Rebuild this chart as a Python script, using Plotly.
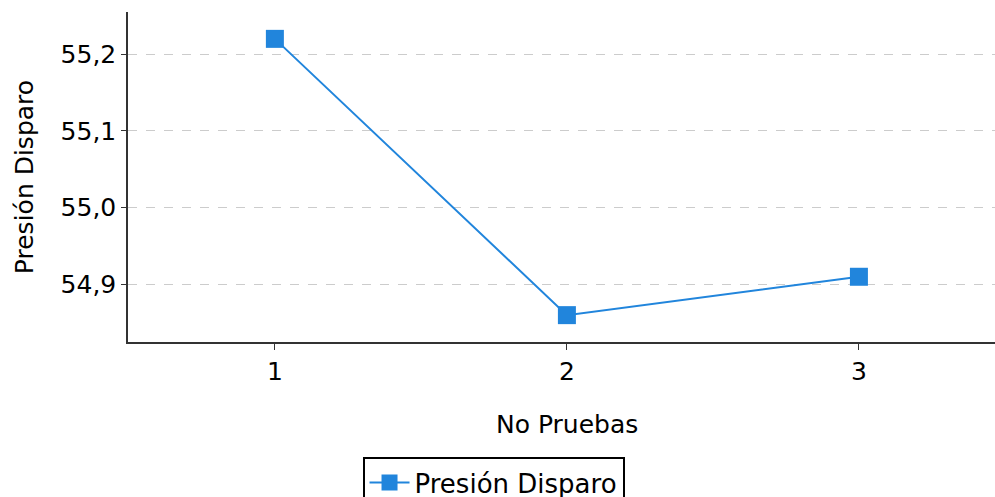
import plotly.graph_objects as go

pruebas = [1, 2, 3]
presion = [55.22, 54.86, 54.91]
serie = "Presión Disparo"
color = "#2185dc"
font_fam = "DejaVu Sans"

fig = go.Figure()
fig.add_trace(go.Scatter(
    x=pruebas, y=presion, mode="lines+markers", name=serie,
    line=dict(color=color, width=2),
    marker=dict(symbol="square", size=18, color=color),
))

fig.update_layout(
    width=995, height=497,
    margin=dict(l=128, r=0, t=12, b=155, autoexpand=False),
    paper_bgcolor="white", plot_bgcolor="white",
    separators=",.",
    font=dict(family=font_fam, size=25, color="black"),
    showlegend=True,
    legend=dict(
        orientation="h",
        x=0.4216, xanchor="center", y=-0.3485, yanchor="top",
        bordercolor="black", borderwidth=2, itemwidth=40,
        font=dict(family=font_fam, size=26, color="black"),
    ),
    xaxis=dict(
        range=[0.497, 3.466], tickvals=pruebas, ticktext=["1", "2", "3"],
        showgrid=False, zeroline=False, automargin=False,
        showline=True, linecolor="#333", linewidth=1.5,
        ticks="outside", ticklen=6, tickcolor="#333",
        tickfont=dict(size=25),
    ),
    yaxis=dict(
        range=[54.825, 55.255], tickvals=[54.9, 55.0, 55.1, 55.2],
        ticktext=["54,9", "55,0", "55,1", "55,2"],
        showgrid=True, gridcolor="#cccccc", griddash="dash", gridwidth=1,
        zeroline=False, automargin=False,
        showline=True, linecolor="#333", linewidth=1.5,
        ticks="outside", ticklen=5, tickcolor="#333",
        tickfont=dict(size=25),
        title=dict(text=serie, standoff=20, font=dict(size=25)),
    ),
    annotations=[dict(
        text="No Pruebas", xref="paper", yref="paper",
        x=0.5063, xanchor="center", y=-0.2, yanchor="top",
        showarrow=False, font=dict(size=25),
    )],
)

fig.write_html(
    "out.html",
    config={"displayModeBar": False},
    post_script="document.body.style.margin='0';document.body.style.overflow='hidden';",
)
